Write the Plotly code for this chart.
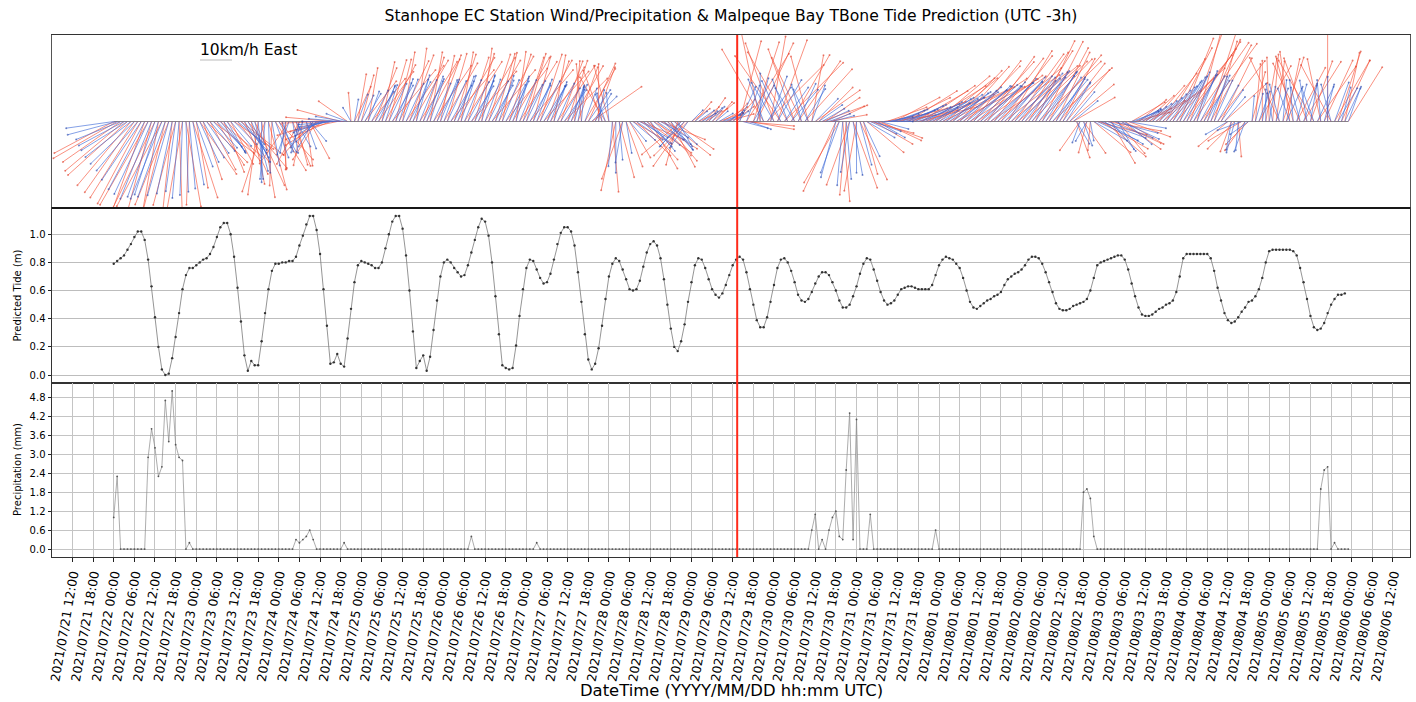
import numpy as np
import pandas as pd
import plotly.graph_objects as go

# ---------------- data (hourly, starting 2021-07-22 00:00 UTC) ----------------
start_time = "2021-07-22 00:00"

tide_m = [
    0.79, 0.81, 0.83, 0.85, 0.89, 0.93, 0.98, 1.02, 1.02, 0.96, 0.82, 0.63, 0.41, 0.20, 0.04, 0.00, 0.01, 0.12, 0.27, 0.44, 0.61, 0.71, 0.76, 0.76,
    0.78, 0.80, 0.82, 0.83, 0.86, 0.91, 0.98, 1.05, 1.08, 1.08, 1.00, 0.84, 0.62, 0.38, 0.14, 0.03, 0.10, 0.07, 0.07, 0.24, 0.44, 0.61, 0.74, 0.79,
    0.79, 0.80, 0.80, 0.81, 0.81, 0.84, 0.92, 0.99, 1.07, 1.13, 1.13, 1.03, 0.86, 0.61, 0.35, 0.08, 0.09, 0.15, 0.08, 0.06, 0.26, 0.47, 0.66, 0.78,
    0.81, 0.80, 0.79, 0.78, 0.76, 0.76, 0.80, 0.90, 1.00, 1.09, 1.13, 1.13, 1.04, 0.85, 0.60, 0.31, 0.05, 0.10, 0.14, 0.03, 0.13, 0.32, 0.53, 0.70,
    0.80, 0.82, 0.80, 0.76, 0.73, 0.70, 0.71, 0.78, 0.87, 0.96, 1.05, 1.11, 1.09, 0.99, 0.80, 0.56, 0.29, 0.07, 0.05, 0.04, 0.05, 0.21, 0.42, 0.61,
    0.76, 0.82, 0.81, 0.75, 0.69, 0.65, 0.66, 0.72, 0.82, 0.93, 1.01, 1.05, 1.05, 1.02, 0.92, 0.73, 0.52, 0.29, 0.11, 0.04, 0.08, 0.19, 0.35, 0.54,
    0.70, 0.79, 0.83, 0.81, 0.75, 0.68, 0.61, 0.60, 0.61, 0.67, 0.77, 0.87, 0.93, 0.95, 0.92, 0.83, 0.68, 0.50, 0.33, 0.20, 0.17, 0.24, 0.36, 0.52,
    0.66, 0.78, 0.83, 0.82, 0.76, 0.68, 0.61, 0.57, 0.55, 0.58, 0.64, 0.71, 0.78, 0.82, 0.84, 0.82, 0.73, 0.61, 0.50, 0.39, 0.34, 0.34, 0.41, 0.52,
    0.64, 0.76, 0.82, 0.83, 0.80, 0.74, 0.66, 0.57, 0.53, 0.52, 0.54, 0.59, 0.65, 0.70, 0.73, 0.73, 0.71, 0.66, 0.60, 0.53, 0.48, 0.48, 0.50, 0.56,
    0.63, 0.72, 0.79, 0.83, 0.82, 0.75, 0.67, 0.59, 0.53, 0.50, 0.51, 0.53, 0.57, 0.61, 0.62, 0.63, 0.63, 0.62, 0.61, 0.61, 0.61, 0.61, 0.64, 0.71,
    0.78, 0.82, 0.84, 0.83, 0.82, 0.79, 0.76, 0.69, 0.60, 0.52, 0.48, 0.47, 0.49, 0.51, 0.53, 0.54, 0.56, 0.57, 0.59, 0.64, 0.68, 0.70, 0.72, 0.73,
    0.75, 0.78, 0.82, 0.84, 0.84, 0.83, 0.79, 0.73, 0.66, 0.59, 0.51, 0.47, 0.46, 0.46, 0.47, 0.49, 0.50, 0.51, 0.52, 0.54, 0.60, 0.69, 0.78, 0.80,
    0.81, 0.82, 0.83, 0.84, 0.85, 0.85, 0.82, 0.75, 0.65, 0.56, 0.48, 0.43, 0.42, 0.42, 0.43, 0.45, 0.47, 0.48, 0.50, 0.51, 0.53, 0.59, 0.70, 0.83,
    0.86, 0.86, 0.86, 0.86, 0.86, 0.86, 0.86, 0.83, 0.74, 0.62, 0.53, 0.44, 0.39, 0.37, 0.38, 0.41, 0.45, 0.48, 0.52, 0.53, 0.56, 0.61, 0.69, 0.80,
    0.88, 0.89, 0.89, 0.89, 0.89, 0.89, 0.89, 0.88, 0.85, 0.76, 0.66, 0.54, 0.42, 0.34, 0.32, 0.33, 0.37, 0.44, 0.50, 0.54, 0.57, 0.57, 0.58,
]

precip_mm = [
    1.0, 2.3, 0, 0, 0, 0, 0, 0, 0, 0, 2.9, 3.8, 3.2, 2.3, 2.6, 4.7, 3.4, 5.0, 3.3, 2.9, 2.8, 0, 0.2, 0,
    0, 0, 0, 0, 0, 0, 0, 0, 0, 0, 0, 0, 0, 0, 0, 0, 0, 0, 0, 0, 0, 0, 0, 0,
    0, 0, 0, 0, 0, 0.3, 0.2, 0.3, 0.4, 0.6, 0.3, 0, 0, 0, 0, 0, 0, 0, 0, 0.2, 0, 0, 0, 0,
    0, 0, 0, 0, 0, 0, 0, 0, 0, 0, 0, 0, 0, 0, 0, 0, 0, 0, 0, 0, 0, 0, 0, 0,
    0, 0, 0, 0, 0, 0, 0, 0, 0.4, 0, 0, 0, 0, 0, 0, 0, 0, 0, 0, 0, 0, 0, 0, 0,
    0, 0, 0, 0.2, 0, 0, 0, 0, 0, 0, 0, 0, 0, 0, 0, 0, 0, 0, 0, 0, 0, 0, 0, 0,
    0, 0, 0, 0, 0, 0, 0, 0, 0, 0, 0, 0, 0, 0, 0, 0, 0, 0, 0, 0, 0, 0, 0, 0,
    0, 0, 0, 0, 0, 0, 0, 0, 0, 0, 0, 0, 0, 0, 0, 0, 0, 0, 0, 0, 0, 0, 0, 0,
    0, 0, 0, 0, 0, 0, 0, 0, 0, 0, 0, 0.6, 1.1, 0, 0.3, 0, 0.6, 1.0, 1.2, 0.4, 0.3, 2.5, 4.3, 0.3,
    4.1, 0, 0, 0, 1.1, 0, 0, 0, 0, 0, 0, 0, 0, 0, 0, 0, 0, 0, 0, 0, 0, 0, 0, 0.6,
    0, 0, 0, 0, 0, 0, 0, 0, 0, 0, 0, 0, 0, 0, 0, 0, 0, 0, 0, 0, 0, 0, 0, 0,
    0, 0, 0, 0, 0, 0, 0, 0, 0, 0, 0, 0, 0, 0, 0, 0, 0, 0, 1.8, 1.9, 1.6, 0.4, 0, 0,
    0, 0, 0, 0, 0, 0, 0, 0, 0, 0, 0, 0, 0, 0, 0, 0, 0, 0, 0, 0, 0, 0, 0, 0,
    0, 0, 0, 0, 0, 0, 0, 0, 0, 0, 0, 0, 0, 0, 0, 0, 0, 0, 0, 0, 0, 0, 0, 0,
    0, 0, 0, 0, 0, 0, 0, 0, 0, 0, 0, 0, 0, 0, 0, 1.9, 2.5, 2.6, 0, 0.2, 0, 0, 0, 0,
]

# blue sticks: direction (deg, meteorological "from") and speed (km/h)
blue_dir = [
    82, 75, 68, 62, 58, 52, 46, 40, 34, 28, 25, 22, 20, 18, 22, 20, 16, 12, 8, 5, 2, 358, 355, 350,
    340, 335, 330, 325, 320, 318, 315, 320, 325, 330, 320, 315, 310, 318, 325, 330, 335, 345, 355, 0, 5, 358, 350, 340,
    330, 340, 10, 20, 350, 330, 15, 25, 340, 320, 30, 45, 60, 70, 75, 80, 85, 90, 95, 100, 110, 150, 190, 200,
    205, 210, 200, 208, 212, 205, 200, 198, 205, 210, 202, 198, 200, 205, 208, 200, 196, 202, 206, 200, 198, 204, 208, 202,
    200, 205, 210, 206, 200, 198, 202, 208, 212, 205, 200, 196, 200, 206, 210, 204, 198, 202, 208, 206, 200, 196, 202, 208,
    205, 210, 204, 200, 206, 212, 208, 202, 198, 204, 210, 215, 208, 200, 195, 190, 185, 200, 215, 225, 210, 190, 170, 160,
    175, 5, 0, 355, 10, 350, 320, 310, 305, 300, 308, 315, 320, 312, 305, 300, 310, 318, 322, 315, 330, 40, 45, 35,
    225, 230, 235, 240, 230, 225, 220, 230, 240, 250, 245, 235, 225, 230, 205, 285, 200, 290, 210, 195, 180, 160, 215, 200,
    150, 210, 155, 215, 160, 220, 150, 205, 165, 212, 155, 200, 225, 235, 240, 245, 250, 255, 15, 20, 5, 355, 10, 350,
    0, 345, 335, 300, 295, 290, 300, 285, 270, 260, 255, 250, 248, 252, 250, 246, 244, 248, 250, 245, 242, 246, 240, 238,
    240, 236, 238, 234, 232, 235, 230, 228, 232, 230, 226, 228, 230, 226, 224, 228, 225, 222, 226, 224, 220, 222, 225, 220,
    222, 218, 220, 216, 214, 218, 215, 212, 216, 220, 214, 210, 215, 212, 220, 230, 330, 20, 340, 30, 350, 300, 295, 290,
    300, 290, 320, 285, 330, 295, 310, 280, 250, 245, 240, 238, 235, 232, 230, 228, 225, 222, 220, 218, 215, 212, 210, 208,
    205, 210, 206, 202, 208, 212, 206, 200, 204, 210, 215, 220, 60, 10, 15, 5, 70, 20, 55, 185, 195, 200, 190, 180,
    190, 170, 200, 165, 185, 205, 160, 175, 195, 165, 200, 170, 190, 160, 205, 175, 195, 180, 165, 200, 210, 195, 205, 200,
]
blue_kmh = [
    15, 16, 15, 16, 17, 18, 19, 20, 22, 24, 25, 26, 25, 24, 26, 25, 24, 23, 22, 24, 23, 22, 21, 20,
    15, 14, 13, 12, 12, 11, 11, 12, 12, 11, 10, 10, 11, 12, 12, 13, 14, 16, 18, 19, 18, 16, 14, 12,
    11, 10, 10, 11, 10, 9, 10, 9, 9, 8, 9, 9, 9, 10, 10, 10, 11, 11, 10, 9, 7, 5, 7, 9,
    9, 10, 10, 11, 11, 12, 12, 12, 13, 13, 13, 14, 14, 13, 14, 14, 15, 14, 14, 15, 14, 13, 14, 14,
    14, 14, 13, 14, 15, 15, 14, 14, 13, 14, 15, 15, 14, 14, 13, 14, 15, 14, 13, 14, 15, 14, 14, 13,
    14, 13, 13, 14, 14, 13, 13, 12, 13, 13, 12, 12, 13, 12, 11, 11, 10, 11, 12, 11, 10, 10, 9, 9,
    9, 14, 16, 12, 13, 10, 8, 9, 10, 10, 11, 11, 12, 11, 10, 10, 11, 12, 11, 10, 9, 10, 11, 10,
    5, 5, 6, 5, 5, 6, 6, 5, 5, 6, 6, 5, 5, 5, 12, 8, 12, 7, 13, 14, 15, 14, 13, 15,
    14, 15, 14, 13, 14, 13, 12, 13, 12, 12, 11, 12, 10, 9, 8, 8, 7, 7, 18, 17, 20, 18, 16, 17,
    16, 14, 12, 10, 9, 9, 10, 9, 9, 8, 9, 10, 10, 11, 11, 12, 12, 12, 13, 13, 13, 14, 14, 14,
    14, 15, 14, 15, 15, 16, 15, 16, 16, 17, 16, 17, 17, 16, 17, 18, 17, 18, 18, 17, 18, 19, 18, 18,
    18, 19, 18, 19, 19, 18, 19, 18, 17, 17, 16, 16, 15, 14, 12, 10, 8, 7, 8, 7, 6, 12, 14, 15,
    14, 15, 12, 14, 10, 13, 11, 12, 9, 8, 8, 7, 8, 9, 10, 11, 12, 13, 14, 14, 15, 15, 16, 16,
    17, 17, 16, 17, 16, 15, 16, 15, 14, 13, 12, 10, 8, 9, 10, 9, 8, 10, 7, 8, 9, 10, 9, 10,
    11, 12, 11, 12, 13, 12, 11, 13, 12, 11, 12, 13, 12, 11, 12, 13, 12, 14, 12, 13, 12, 11, 12, 11,
]

# red sticks: direction (deg, "from") and speed (km/h)
red_dir = [
    62, 60, 55, 50, 48, 40, 35, 32, 28, 20, 30, 15, 26, 10, 28, 14, 22, 6, 15, 358, 10, 350, 2, 342,
    350, 325, 342, 315, 332, 308, 328, 310, 338, 320, 332, 305, 322, 308, 336, 320, 348, 335, 8, 350, 18, 345, 2, 328,
    318, 355, 0, 35, 338, 345, 28, 12, 352, 332, 42, 32, 72, 58, 88, 68, 95, 78, 105, 90, 125, 175, 205, 190,
    195, 218, 190, 218, 202, 215, 192, 208, 196, 220, 194, 206, 190, 214, 200, 210, 188, 212, 198, 208, 190, 214, 200, 192,
    210, 196, 220, 198, 210, 190, 212, 198, 222, 196, 210, 188, 210, 198, 220, 196, 208, 192, 218, 198, 210, 188, 212, 198,
    196, 220, 195, 210, 198, 222, 200, 212, 190, 214, 200, 225, 198, 210, 185, 200, 175, 210, 205, 235, 200, 180, 160, 150,
    165, 355, 12, 345, 20, 340, 330, 300, 315, 292, 318, 305, 330, 302, 315, 292, 320, 308, 332, 305, 15, 50, 35, 45,
    235, 220, 245, 230, 240, 215, 230, 220, 250, 240, 255, 225, 235, 220, 195, 275, 212, 280, 198, 205, 168, 150, 225, 190,
    160, 200, 145, 225, 150, 210, 160, 215, 155, 222, 165, 190, 235, 225, 250, 235, 260, 245, 25, 30, 355, 5, 20, 340,
    10, 335, 345, 310, 285, 300, 290, 295, 260, 250, 262, 242, 255, 244, 258, 238, 250, 240, 256, 236, 248, 238, 246, 230,
    232, 244, 230, 242, 224, 243, 222, 236, 224, 238, 218, 235, 222, 234, 216, 236, 218, 230, 218, 232, 212, 230, 216, 228,
    214, 226, 212, 224, 206, 226, 207, 220, 208, 228, 206, 218, 207, 220, 230, 240, 340, 35, 325, 15, 5, 310, 285, 300,
    310, 280, 330, 295, 320, 305, 300, 290, 240, 255, 232, 246, 228, 240, 222, 236, 218, 230, 212, 226, 208, 220, 202, 216,
    214, 200, 215, 195, 216, 204, 198, 208, 196, 218, 206, 228, 50, 20, 45, 355, 60, 35, 45, 195, 185, 210, 180, 190,
    178, 185, 188, 155, 198, 192, 172, 165, 208, 155, 212, 160, 200, 150, 215, 168, 205, 180, 152, 210, 198, 205, 192, 212,
]
red_kmh = [
    21, 23, 22, 24, 25, 26, 27, 28, 29, 30, 30, 31, 30, 29, 30, 29, 28, 28, 27, 29, 28, 27, 26, 25,
    21, 20, 19, 18, 17, 16, 16, 17, 17, 16, 15, 15, 16, 17, 18, 19, 20, 22, 23, 24, 23, 22, 20, 18,
    16, 15, 15, 16, 15, 14, 15, 14, 14, 13, 14, 14, 14, 14, 14, 15, 15, 15, 14, 13, 11, 9, 12, 15,
    15, 16, 17, 17, 18, 19, 19, 20, 20, 21, 20, 21, 22, 21, 22, 22, 23, 22, 21, 22, 22, 21, 22, 21,
    21, 22, 21, 22, 23, 22, 22, 21, 21, 22, 23, 23, 22, 22, 21, 22, 23, 22, 21, 22, 23, 22, 22, 21,
    22, 21, 21, 22, 22, 21, 20, 20, 21, 21, 20, 19, 20, 20, 19, 18, 18, 19, 20, 19, 18, 18, 17, 16,
    18, 22, 22, 18, 19, 15, 13, 14, 15, 15, 16, 17, 17, 16, 15, 15, 16, 17, 16, 15, 14, 16, 17, 15,
    7, 8, 8, 7, 8, 9, 9, 8, 8, 9, 9, 8, 8, 9, 26, 16, 25, 14, 26, 27, 28, 26, 25, 27,
    26, 27, 25, 26, 25, 24, 24, 23, 22, 22, 21, 21, 17, 15, 14, 13, 12, 12, 24, 22, 25, 23, 21, 22,
    22, 20, 17, 15, 14, 14, 15, 14, 14, 13, 14, 16, 16, 17, 17, 18, 18, 19, 19, 20, 20, 21, 21, 22,
    22, 22, 21, 23, 22, 24, 23, 24, 24, 25, 24, 25, 25, 24, 25, 26, 25, 26, 26, 25, 26, 27, 26, 26,
    26, 27, 26, 27, 28, 27, 28, 27, 26, 25, 24, 23, 22, 21, 18, 15, 12, 11, 12, 10, 9, 15, 16, 17,
    17, 17, 15, 16, 13, 15, 14, 14, 12, 11, 11, 10, 12, 13, 15, 17, 19, 21, 23, 24, 26, 27, 28, 28,
    30, 31, 30, 29, 30, 28, 29, 27, 26, 24, 22, 18, 12, 10, 12, 11, 12, 11, 10, 16, 18, 20, 19, 20,
    20, 21, 19, 22, 21, 20, 22, 21, 19, 20, 22, 21, 20, 22, 21, 20, 21, 30, 20, 22, 23, 21, 22, 20,
]

tick_start, tick_end = "2021-07-21 12:00", "2021-08-06 12:00"
now_marker = "2021-07-29 13:18"
key_label = "10km/h East"
key_speed = 10

# ---------------- layout geometry ----------------
W, H = 1416, 702
ML, MR, MT, MB = 52, 6, 35, 145
plot_w = W - ML - MR
plot_h = H - MT - MB
FONT = "DejaVu Sans"

t0 = pd.Timestamp(start_time)
tide_t = pd.date_range(t0, periods=len(tide_m), freq="h")
prec_t = pd.date_range(t0, periods=len(precip_mm), freq="h")
wind_t = pd.date_range(t0, periods=len(blue_dir), freq="h")

span_h = (len(blue_dir) - 1)
pad_h = 0.05 * span_h
x_lo = t0 - pd.Timedelta(hours=pad_h)
x_hi = t0 + pd.Timedelta(hours=span_h + pad_h)
px_per_h = plot_w / (span_h + 2 * pad_h)


def dom(top_px, bot_px):
    return [(MT + plot_h - bot_px) / plot_h, (MT + plot_h - top_px) / plot_h]


d_wind = dom(35, 208)
d_tide = dom(208, 383)
d_prec = dom(383, 557)

PX_PER_KMH = 3.2
wind_px_h = (d_wind[1] - d_wind[0]) * plot_h
wind_half = wind_px_h / 2 / PX_PER_KMH


def sticks(dirs, speeds):
    xs, ys, tx, ty = [], [], [], []
    for t, d, s in zip(wind_t, dirs, speeds):
        r = np.deg2rad(d)
        u = -s * np.sin(r)
        v = -s * np.cos(r)
        tip = t + pd.Timedelta(hours=float(u * PX_PER_KMH / px_per_h))
        xs += [t, tip, None]
        ys += [0, v, None]
        tx.append(tip)
        ty.append(v)
    return xs, ys, tx, ty


fig = go.Figure()

# baseline of the stick plot
fig.add_trace(go.Scatter(x=[wind_t[0], wind_t[-1]], y=[0, 0], mode="lines",
                         line=dict(color="#666666", width=0.8), hoverinfo="skip",
                         xaxis="x", yaxis="y", showlegend=False))

for dirs, spd, col, mcol in ((red_dir, red_kmh, "rgba(245,80,55,0.75)", "rgba(220,60,40,0.6)"),
                             (blue_dir, blue_kmh, "rgba(60,105,215,0.75)", "rgba(40,70,170,0.6)")):
    xs, ys, tx, ty = sticks(dirs, spd)
    fig.add_trace(go.Scatter(x=xs, y=ys, mode="lines", line=dict(color=col, width=0.85),
                             xaxis="x", yaxis="y", showlegend=False, hoverinfo="skip"))
    fig.add_trace(go.Scatter(x=tx, y=ty, mode="markers", marker=dict(color=mcol, size=2),
                             xaxis="x", yaxis="y", showlegend=False, hoverinfo="skip",
                             cliponaxis=True))

fig.add_trace(go.Scatter(x=tide_t, y=tide_m, mode="lines+markers",
                         line=dict(color="#7a7a7a", width=0.8),
                         marker=dict(color="#333333", size=2.4),
                         xaxis="x2", yaxis="y2", showlegend=False))

fig.add_trace(go.Scatter(x=prec_t, y=precip_mm, mode="lines+markers",
                         line=dict(color="#8a8a8a", width=0.7),
                         marker=dict(color="#555555", size=1.8),
                         xaxis="x3", yaxis="y3", showlegend=False))

tick_times = pd.date_range(tick_start, tick_end, freq="6h")
tick_text = [t.strftime("%Y/%m/%d %H:%M") for t in tick_times]

axis_common = dict(range=[x_lo, x_hi], type="date", showline=True, mirror=True,
                   linecolor="#333333", linewidth=1, zeroline=False)

fig.update_layout(
    width=W, height=H,
    margin=dict(l=ML, r=MR, t=MT, b=MB, autoexpand=False),
    paper_bgcolor="white", plot_bgcolor="white",
    font=dict(family=FONT, color="black"),
    title=dict(text="Stanhope EC Station Wind/Precipitation & Malpeque Bay TBone Tide Prediction (UTC -3h)",
               x=0.5, xref="paper", xanchor="center",
               y=1 - 16 / H, yref="container", yanchor="middle",
               font=dict(family=FONT, size=15.6, color="black")),
    xaxis=dict(**axis_common, anchor="y", domain=[0, 1], showticklabels=False, ticks="",
               showgrid=False),
    xaxis2=dict(**axis_common, anchor="y2", domain=[0, 1], matches="x", showticklabels=False,
                ticks="", showgrid=False),
    xaxis3=dict(**axis_common, anchor="y3", domain=[0, 1], matches="x",
                tickmode="array", tickvals=list(tick_times), ticktext=tick_text,
                tickangle=-80, ticks="outside", ticklen=4, tickcolor="#222222",
                tickfont=dict(family=FONT, size=12.5, color="black"),
                showgrid=True, gridcolor="#c4c4c4", gridwidth=0.8, automargin=False),
    yaxis=dict(domain=d_wind, range=[-wind_half, wind_half], showticklabels=False, ticks="",
               showgrid=False, zeroline=False, showline=True, mirror=True,
               linecolor="#555555", linewidth=1, anchor="x"),
    yaxis2=dict(domain=d_tide, range=[-0.0565, 1.1865], tickmode="array",
                tickvals=[0.0, 0.2, 0.4, 0.6, 0.8, 1.0], tickformat=".1f",
                ticks="outside", ticklen=3.5, tickcolor="#222222",
                tickfont=dict(family=FONT, size=10, color="black"),
                showgrid=True, gridcolor="#bdbdbd", gridwidth=1, zeroline=False,
                showline=True, mirror=True, linecolor="#333333", linewidth=1,
                anchor="x2", automargin=False),
    yaxis3=dict(domain=d_prec, range=[-0.25, 5.25], tickmode="array",
                tickvals=[0.0, 0.6, 1.2, 1.8, 2.4, 3.0, 3.6, 4.2, 4.8], tickformat=".1f",
                ticks="outside", ticklen=3.5, tickcolor="#222222",
                tickfont=dict(family=FONT, size=10, color="black"),
                showgrid=True, gridcolor="#c4c4c4", gridwidth=0.8, zeroline=False,
                showline=True, mirror=True, linecolor="#333333", linewidth=1,
                anchor="x3", automargin=False),
)

# current-time marker
fig.add_shape(type="line", xref="x", yref="paper", x0=now_marker, x1=now_marker,
              y0=0, y1=1, line=dict(color="#ff2a1a", width=2))
# darker separator between wind and tide panels
fig.add_shape(type="line", xref="paper", yref="paper", x0=0, x1=1,
              y0=d_wind[0], y1=d_wind[0], line=dict(color="#111111", width=1.6))

# quiver key
key_x0 = (200 - ML) / plot_w
key_x1 = key_x0 + key_speed * PX_PER_KMH / plot_w
key_y = (MT + plot_h - 60) / plot_h
fig.add_shape(type="line", xref="paper", yref="paper", x0=key_x0, x1=key_x1,
              y0=key_y, y1=key_y, line=dict(color="#bbbbbb", width=1))
fig.add_annotation(text=key_label, xref="paper", yref="paper", x=(198 - ML) / plot_w,
                   y=(MT + plot_h - 50) / plot_h, xanchor="left", yanchor="middle",
                   showarrow=False, font=dict(family=FONT, size=15.5, color="black"))

# axis titles
fig.add_annotation(text="DateTime (YYYY/MM/DD hh:mm UTC)", xref="paper", yref="paper",
                   x=0.5, y=(MT + plot_h - 690) / plot_h, xanchor="center", yanchor="middle",
                   showarrow=False, font=dict(family=FONT, size=16.4, color="black"))
fig.add_annotation(text="Predicted Tide (m)", xref="paper", yref="paper",
                   x=(17 - ML) / plot_w, y=(d_tide[0] + d_tide[1]) / 2, textangle=-90,
                   xanchor="center", yanchor="middle", showarrow=False,
                   font=dict(family=FONT, size=10, color="black"))
fig.add_annotation(text="Precipitation (mm)", xref="paper", yref="paper",
                   x=(17 - ML) / plot_w, y=(d_prec[0] + d_prec[1]) / 2, textangle=-90,
                   xanchor="center", yanchor="middle", showarrow=False,
                   font=dict(family=FONT, size=10, color="black"))

fig.write_html("out.html", post_script="document.body.style.margin='0px';",
               config={"displayModeBar": False})
